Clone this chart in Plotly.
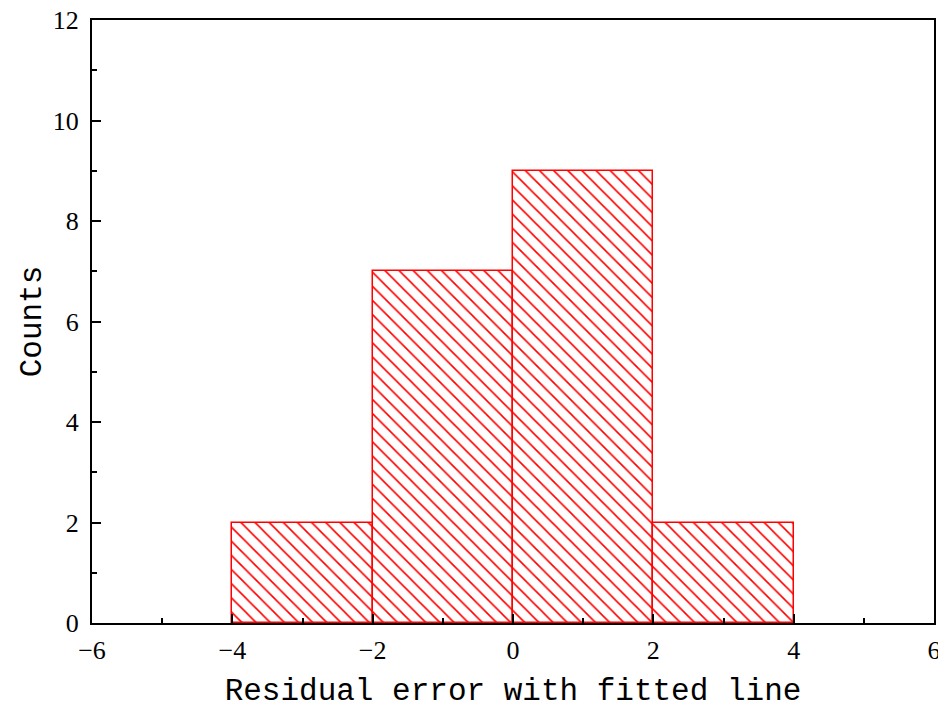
import plotly.graph_objects as go

# histogram bins (residual error) and counts
bin_left = [-4, -2, 0, 2]
bin_right = [-2, 0, 2, 4]
counts = [2, 7, 9, 2]

centers = [(a + b) / 2 for a, b in zip(bin_left, bin_right)]
widths = [b - a for a, b in zip(bin_left, bin_right)]

RED = '#ff0000'
TICK_FONT = dict(family='Liberation Serif', size=26, color='black')
TITLE_FONT = dict(family='Liberation Mono', size=31, color='black')

fig = go.Figure()
fig.add_trace(go.Bar(
    x=centers, y=counts, width=widths,
    marker=dict(
        color='white',
        line=dict(color=RED, width=1.5),
        pattern=dict(shape='\\', fgcolor=RED, bgcolor='white',
                     size=10, solidity=0.16, fgopacity=1),
    ),
    hoverinfo='skip',
))

axis_common = dict(
    showline=True, linecolor='black', linewidth=2, mirror=True,
    ticks='inside', ticklen=9, tickwidth=2, tickcolor='black',
    showgrid=False, zeroline=False, tickfont=TICK_FONT, automargin=False,
    ticklabeloverflow='allow',
    minor=dict(ticks='inside', ticklen=5, tickwidth=2, tickcolor='black',
               dtick=1, showgrid=False),
)

# page body has an 8px default margin, so size/margins are offset by it
fig.update_layout(
    width=938, height=701,
    paper_bgcolor='white', plot_bgcolor='white',
    margin=dict(l=84, r=12, t=12, b=86),
    bargap=0, showlegend=False,
    xaxis=dict(range=[-6, 6], dtick=2, tick0=-6, ticklabelstandoff=3,
               title=dict(text='Residual error with fitted line',
                          font=TITLE_FONT, standoff=18),
               **axis_common),
    yaxis=dict(range=[0, 12], dtick=2, tick0=0, ticklabelstandoff=6,
               title=dict(text='Counts', font=TITLE_FONT, standoff=2),
               **axis_common),
)

fig.write_html("out.html")
